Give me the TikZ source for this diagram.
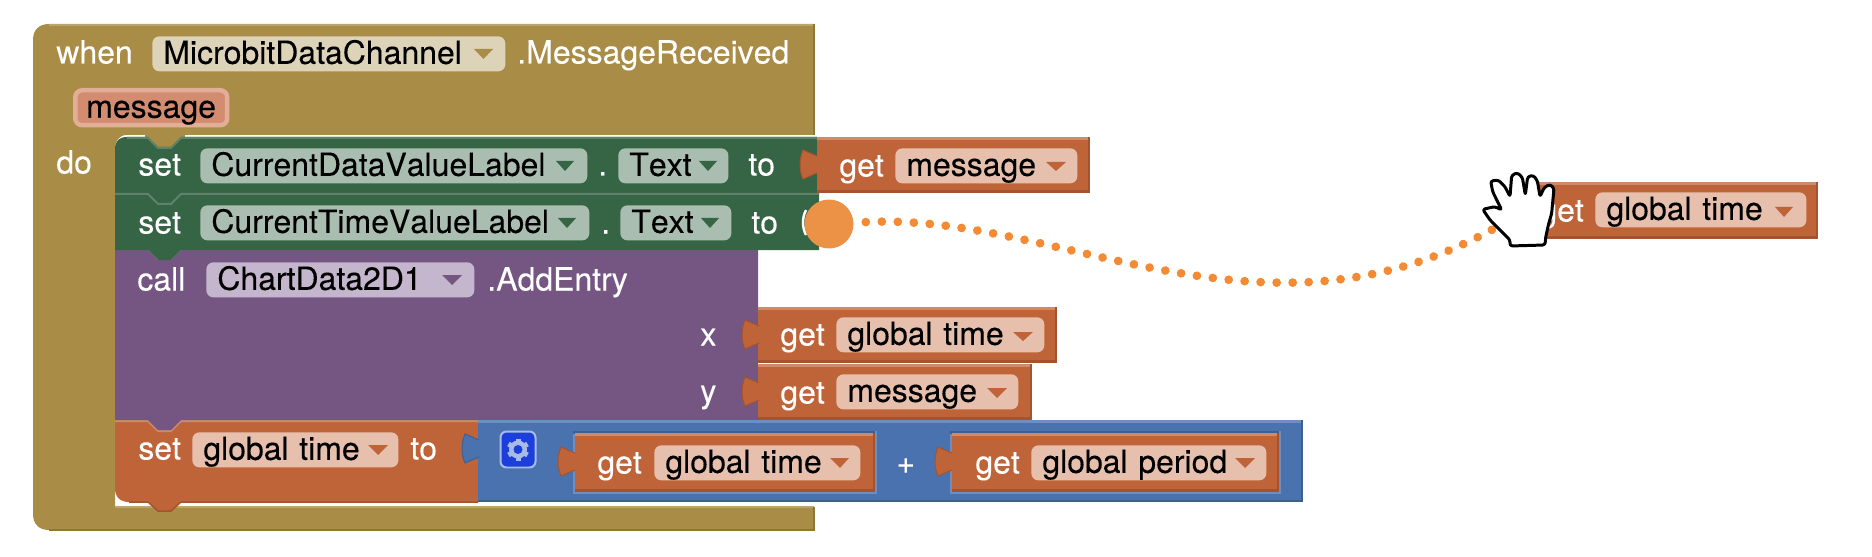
\documentclass[tikz,border=0pt]{standalone}
\usepackage{fontspec}
\setmainfont[Kerning=Off,FakeBold=0.2]{TeX Gyre Heros}
\definecolor{goldc}{HTML}{A98C45}
\definecolor{goldlight}{HTML}{BBA470}
\definecolor{golddark}{HTML}{8E7639}
\definecolor{goldfield}{HTML}{DDD3B8}
\definecolor{greenc}{HTML}{366545}
\definecolor{greenlight}{HTML}{5E8368}
\definecolor{greenfield}{HTML}{A9BEB0}
\definecolor{purplec}{HTML}{755682}
\definecolor{purplefield}{HTML}{C4B6CC}
\definecolor{getc}{HTML}{BF6439}
\definecolor{getlight}{HTML}{CE8A6A}
\definecolor{getdark}{HTML}{A4532E}
\definecolor{getfield}{HTML}{E6BFAD}
\definecolor{paramc}{HTML}{D38C6F}
\definecolor{paramlight}{HTML}{E3AE98}
\definecolor{bluec}{HTML}{4A72AF}
\definecolor{bluelight}{HTML}{6E8EC0}
\definecolor{bluedark}{HTML}{3E5F92}
\definecolor{gearc}{HTML}{1C3FDB}
\definecolor{gearlight}{HTML}{A8BBE8}
\definecolor{dragc}{HTML}{EC9246}
\definecolor{dotc}{HTML}{F38B34}
\tikzset{
  blocklabel/.style={anchor=base west, inner sep=0pt, yshift=-.03cm, text=white, font=\fontsize{18.2}{22}\selectfont},
  field/.style={anchor=north west, rounded corners=.14cm, inner xsep=.22cm, inner ysep=0pt,
    text height=.55cm, text depth=.15cm, text width=#1, align=left, text=black,
    font=\fontsize{18.2}{22}\selectfont},
  puzzletab/.pic={
    \path[pic actions] (0,6) -- (-14,0) .. controls (-18,10) and (-18,20) .. (-14,29) -- (0,23);
  }
}
\begin{document}
\begin{tikzpicture}[x=0.02cm,y=-0.02cm]
    \useasboundingbox (0,0) rectangle (1872,557);

    % Event block
    \fill[goldc] (814,24) -- (49,24) .. controls (39,24) and (33,30) .. (33,40) -- (33,514)
        .. controls (33,524) and (39,530) .. (49,530) -- (814,530) -- (814,507) -- (115,507)
        -- (115,149) .. controls (115,141) and (119,135) .. (127,135) -- (814,135) -- cycle;
    \fill[goldc] (145,130) rectangle (185,150);
    \draw[goldlight, line width=.04cm] (814,25) -- (49,25);
    \draw[goldlight, line width=.04cm] (115,507) -- (814,507);
    \draw[golddark, line width=.03cm] (814,24) -- (814,135) (814,507) -- (814,530) -- (49,530);
    \node[blocklabel] (whenlabel) at (56,62) {when};
    \node[field=6.62cm, fill=goldfield] (channelfield) at (152,36) {MicrobitDataChannel};
    \fill[goldc] (474,49) -- (493,49) -- (483.5,59) -- cycle;
    \node[blocklabel] (eventlabel) at (517,62) {.MessageReceived};
    \node[field=2.6cm, fill=paramc, draw=paramlight, line width=.09cm] (messageparam) at (73,88) {message};
    \node[blocklabel] (dolabel) at (56,172) {do};

    % Set global time block
    \fill[getc] (478,420) -- (181,420) -- (171,430) -- (158,430) -- (148,420) -- (115,420) -- (115,488)
        .. controls (115,497) and (120,502) .. (129,502) -- (148,502) -- (158,511) -- (171,511) -- (181,502) -- (478,502) -- cycle;
    \draw[getlight, line width=.04cm] (478,421) -- (181,421) -- (171,431) -- (158,431) -- (148,421) -- (115,421);
    \draw[getdark, line width=.03cm] (129,502) -- (148,502) -- (158,511) -- (171,511) -- (181,502) -- (478,502);
    \node[blocklabel] (setlabelc) at (138,458) {set};
    \node[field=3.68cm, fill=getfield] (timefieldc) at (192,432) {global time};
    \fill[getc] (368,445) -- (388,445) -- (378,455) -- cycle;
    \node[blocklabel] (tolabelc) at (410,458) {to};

    % Call block
    \fill[purplec] (758,250) -- (181,250) -- (171,260) -- (158,260) -- (148,250) -- (115,250) -- (115,420)
        -- (148,420) -- (158,430) -- (171,430) -- (181,420) -- (758,420) -- cycle;
    \node[blocklabel] (calllabel) at (137,289) {call};
    \node[field=4.92cm, fill=purplefield] (chartfield) at (206,262) {ChartData2D1};
    \fill[purplec] (442,275) -- (462,275) -- (452,285) -- cycle;
    \node[blocklabel] (addlabel) at (487,289) {.AddEntry};
    \node[blocklabel] (xlabel) at (700,344) {x};
    \node[blocklabel] (ylabel) at (700,401) {y};

    % Set label blocks
    \fill[greenc] (819,193) -- (181,193) -- (171,203) -- (158,203) -- (148,193) -- (115,193) -- (115,250)
        -- (148,250) -- (158,260) -- (171,260) -- (181,250) -- (819,250) -- cycle;
    \fill[greenc] (817,137) -- (181,137) -- (171,147) -- (158,147) -- (148,137) -- (127,137)
        .. controls (119,137) and (115,141) .. (115,149) -- (115,193)
        -- (148,193) -- (158,203) -- (171,203) -- (181,193) -- (817,193) -- cycle;
    \draw[greenlight, line width=.04cm] (817,138) -- (181,138) -- (171,148) -- (158,148) -- (148,138) -- (127,138);
    \draw[greenlight, line width=.04cm] (819,194) -- (181,194) -- (171,204) -- (158,204) -- (148,194) -- (115,194);
    \node[blocklabel] (setlabela) at (138,174) {set};
    \node[field=7.3cm, fill=greenfield] (datafield) at (200,148) {CurrentDataValueLabel};
    \fill[greenc] (556,161) -- (574,161) -- (565,171) -- cycle;
    \node[blocklabel] (dota) at (598,174) {.};
    \node[field=1.76cm, fill=greenfield] (textfielda) at (618,148) {Text};
    \fill[greenc] (699,161) -- (717,161) -- (708,171) -- cycle;
    \node[blocklabel] (tolabela) at (748,174) {to};
    \node[blocklabel] (setlabelb) at (138,232) {set};
    \node[field=7.34cm, fill=greenfield] (timevaluefield) at (200,205) {CurrentTimeValueLabel};
    \fill[greenc] (558,218) -- (576,218) -- (567,228) -- cycle;
    \node[blocklabel] (dotb) at (601,232) {.};
    \node[field=1.78cm, fill=greenfield] (textfieldb) at (620,205) {Text};
    \fill[greenc] (701,218) -- (719,218) -- (710,228) -- cycle;
    \node[blocklabel] (tolabelb) at (751,232) {to};
    \draw[white, line width=.05cm] (806,210) .. controls (802,218) and (802,227) .. (806,235);

    % Addition block
    \fill[bluedark] (478,420) rectangle (1303,502);
    \fill[bluec] (478,422) rectangle (1301,500);
    \fill[bluelight] (478,420) rectangle (1301,423);
    \fill[bluelight] (573,431) rectangle (877,494);
    \fill[bluelight] (950,431) rectangle (1281,494);
    \fill[bluedark] (573,431) rectangle (875,434);
    \fill[bluedark] (950,431) rectangle (1279,434);
    \node[draw=gearlight, fill=gearc, line width=.04cm, rounded corners=.12cm, inner sep=0pt, minimum width=.7cm, minimum height=.72cm] (gearbox) at (518,449.5) {};
    \foreach \a in {0,60,...,300}
        \draw[gearlight, line width=.1cm] (gearbox.center) -- ++(\a+30:11);
    \fill[gearlight] (gearbox.center) circle (9);
    \fill[gearc] (gearbox.center) circle (4.5);

    % Value blocks
    \foreach \xa/\ya/\xb/\yb in {817/137/1090/193, 758/307/1057/363, 758/364/1032/420, 575/433/875/492, 952/433/1279/492, 1530/182/1818/239} {
        \fill[getdark] (\xa,\ya) rectangle (\xb,\yb);
        \fill[getc] (\xa,\ya) rectangle ({\xb-2},{\yb-3});
        \fill[getlight] (\xa,\ya) rectangle ({\xb-2},{\ya+3});
    }
    \pic[fill=getc, draw=getdark, line width=.02cm] at (817,150) {puzzletab};
    \pic[fill=getc, draw=getdark, line width=.02cm] at (759,320) {puzzletab};
    \pic[fill=getc, draw=getdark, line width=.02cm] at (759,377) {puzzletab};
    \pic[fill=bluec, draw=bluedark, line width=.02cm] at (479,434) {puzzletab};
    \pic[fill=getc, draw=getdark, line width=.02cm] at (575,447) {puzzletab};
    \pic[fill=getc, draw=getdark, line width=.02cm] at (952,447) {puzzletab};

    \node[blocklabel] (getmessagea) at (839,175) {get};
    \node[field=3.2cm, fill=getfield] (messagefielda) at (895,148) {message};
    \fill[getc] (1046,162) -- (1066,162) -- (1056,171) -- cycle;

    \node[blocklabel] (gettimea) at (780,344) {get};
    \node[field=3.72cm, fill=getfield] (timefielda) at (836,317) {global time};
    \fill[getc] (1013,332) -- (1033,332) -- (1023,341) -- cycle;

    \node[blocklabel] (getmessageb) at (780,402) {get};
    \node[field=3.2cm, fill=getfield] (messagefieldb) at (836,374) {message};
    \fill[getc] (987,388) -- (1007,388) -- (997,398) -- cycle;

    \node[blocklabel] (gettimeb) at (597,472) {get};
    \node[field=3.68cm, fill=getfield] (timefieldb) at (654,445) {global time};
    \fill[getc] (830,458) -- (849,458) -- (840,468) -- cycle;

    \node[blocklabel] (pluslabel) at (896,472) {+};

    \node[blocklabel] (getperiod) at (975,472) {get};
    \node[field=4.26cm, fill=getfield] (periodfield) at (1031,445) {global period};
    \fill[getc] (1235,458) -- (1255,458) -- (1245,468) -- cycle;

    \node[blocklabel] (getdragged) at (1539,220) {get};
    \node[field=3.78cm, fill=getfield] (draggedfield) at (1595,192) {global time};
    \fill[getc] (1775,207) -- (1793,207) -- (1784,217) -- cycle;

    % Drag path
    \node[circle, fill=dragc, minimum size=.98cm, inner sep=0pt] (dragstart) at (829,224) {};
    \coordinate (dragend) at (1502,224);
    \draw[dotc, line width=.175cm, line cap=round, dash pattern=on 0.01pt off .32cm, shorten <=.24cm]
        (dragstart) .. controls (1060,212) and (1265,362) .. (dragend);

    % Hand cursor
    \begin{scope}[shift={(1400,150)}, x=0.00667cm, y=-0.00667cm]
        \draw[black, fill=white, line width=1.7pt, line join=round, rounded corners=.05cm]
            (330,288) -- (435,285) -- (437,262) -- (445,225) -- (455,190) -- (462,115) -- (450,103) -- (433,112)
            -- (420,140) -- (412,92) -- (400,76) -- (383,80) -- (376,135) -- (367,82) -- (352,68) -- (335,76)
            -- (330,140) -- (315,110) -- (295,90) -- (272,93) -- (278,125) -- (305,180) -- (285,170) -- (248,178)
            -- (270,210) -- (330,270) -- cycle;
    \end{scope}

\end{tikzpicture}
\end{document}
